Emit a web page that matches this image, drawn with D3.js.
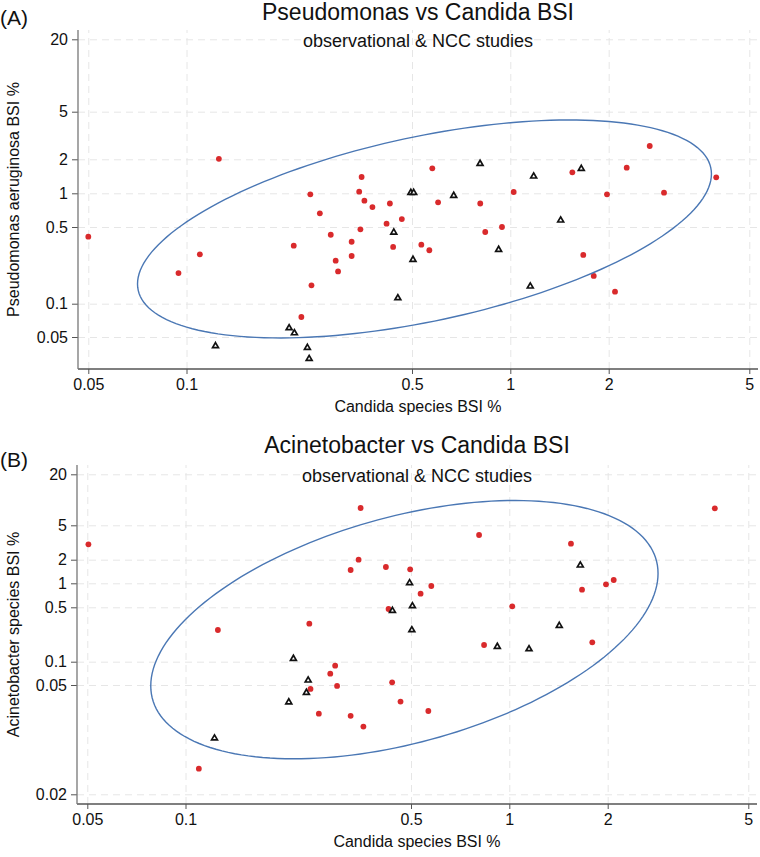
<!DOCTYPE html>
<html>
<head>
<meta charset="utf-8">
<script src="https://cdn.jsdelivr.net/npm/d3@7"></script>
<style>
  body { margin: 0; background: #fff; }
  svg { display: block; font-family: "Liberation Sans", Arial, Helvetica, sans-serif; }
</style>
</head>
<body>
<div id="chart"></div>
<script>
// tick values shared by both panels
const xTicks = [0.05, 0.1, 0.5, 1, 2, 5]
const yTicksA = [20, 5, 2, 1, 0.5, 0.1, 0.05]
const yTicksB = [20, 5, 2, 1, 0.5, 0.1, 0.05, 0.02]

// (A) Pseudomonas vs Candida, % BSI — observational studies (red dots)
const obsCandidaA = [0.05, 0.0945, 0.110, 0.126, 0.215, 0.227, 0.242, 0.244, 0.259, 0.280,
  0.290, 0.295, 0.325, 0.325, 0.343, 0.346, 0.349, 0.356, 0.377, 0.417,
  0.427, 0.437, 0.465, 0.534, 0.565, 0.577, 0.601, 0.809, 0.838, 0.943,
  1.024, 1.548, 1.672, 1.80, 1.976, 2.084, 2.249, 2.613, 2.868, 4.03]
const obsPseudo = [0.408, 0.190, 0.282, 2.02, 0.338, 0.0758, 0.980, 0.147, 0.663, 0.425,
  0.2465, 0.197, 0.367, 0.272, 1.033, 0.476, 1.394, 0.859, 0.754, 0.535,
  0.811, 0.329, 0.589, 0.345, 0.307, 1.665, 0.831, 0.811, 0.450, 0.500,
  1.027, 1.534, 0.278, 0.179, 0.980, 0.1287, 1.685, 2.583, 1.012, 1.386]
// NCC studies (triangles)
const nccCandidaA = [0.123, 0.208, 0.216, 0.237, 0.240, 0.439, 0.452, 0.496, 0.506, 0.5035,
  0.671, 0.808, 0.921, 1.151, 1.179, 1.426, 1.649]
const nccPseudo = [0.0415, 0.0603, 0.0543, 0.0400, 0.0318, 0.447, 0.1127, 1.012, 1.012, 0.252,
  0.952, 1.829, 0.3106, 0.1441, 1.414, 0.574, 1.651]

// (B) Acinetobacter vs Candida
const obsCandidaB = [0.0504, 0.349, 0.344, 0.325, 0.242, 0.126, 4.02, 0.808, 1.544, 0.418,
  0.497, 0.577, 0.535, 1.976, 2.08, 1.669, 0.426, 1.021, 1.794, 0.291,
  0.281, 0.244, 0.295, 0.259, 0.325, 0.356, 0.110, 0.837, 0.437, 0.464, 0.565]
const obsAcineto = [3.014, 8.0, 2.0, 1.478, 0.308, 0.2554, 7.94, 3.861, 3.063, 1.614,
  1.509, 0.925, 0.741, 0.972, 1.102, 0.831, 0.4755, 0.515, 0.1775, 0.0888,
  0.070, 0.0484, 0.0496, 0.0393, 0.0386, 0.0353, 0.0248, 0.164, 0.0542, 0.0435, 0.0402]
const nccCandidaB = [0.495, 1.649, 0.438, 0.505, 0.503, 1.422, 0.216, 0.240, 0.237, 0.209,
  0.123, 0.919, 1.149]
const nccAcineto = [1.009, 1.697, 0.452, 0.519, 0.2554, 0.290, 0.1093, 0.0575, 0.0469, 0.0433,
  0.032, 0.156, 0.1456]

// ellipse: centre (x %, y %), half-widths as share of plot, phase in degrees
const ellipseA = [0.546, 0.480, 0.422, 0.3215, 120.3]
const ellipseB = [0.477, 0.258, 0.373, 0.381, 115.8]

const W = 760, H = 857
const red = '#d92a2c', blue = '#4a77b4'

const svg = d3.select('#chart')
  .append('svg')
    .attr('width', W)
    .attr('height', H)

function panel (p) {
  const width = 680, height = 339
  const g = svg.append('g').attr('transform', `translate(${p.left}, ${p.top})`)

  // piecewise log scales, one piece per labelled tick
  const x = d3.scaleLog().domain(xTicks).range([10.3, 108.5, 334, 432.3, 530.7, 671.3])
  const y = d3.scaleLog().domain(p.yTicks).range(p.yPos)

  // grid
  g.append('g')
    .attr('transform', `translate(0, ${height})`)
    .call(d3.axisBottom(x).tickValues(xTicks).tickSize(-height).tickFormat(''))
    .call(a => a.select('.domain').remove())
    .selectAll('line')
      .attr('stroke', '#e6e6e6')
      .attr('stroke-dasharray', '7,5')
  g.append('g')
    .call(d3.axisLeft(y).tickValues(p.yTicks).tickSize(-width).tickFormat(''))
    .call(a => a.select('.domain').remove())
    .selectAll('line')
      .attr('stroke', '#e6e6e6')
      .attr('stroke-dasharray', '7,5')

  // axes
  const xa = g.append('g')
    .attr('transform', `translate(0, ${height})`)
    .call(d3.axisBottom(x).tickValues(xTicks).tickSize(5).tickPadding(5).tickFormat(d => String(d)))
  const ya = g.append('g')
    .call(d3.axisLeft(y).tickValues(p.yTicks).tickSize(6).tickPadding(4).tickFormat(d => String(d)))
  ;[xa, ya].forEach(a => {
    a.select('.domain').remove()
    a.selectAll('line').attr('stroke', '#555')
    a.selectAll('text').attr('font-size', 16).attr('fill', '#111').attr('font-family', null)
  })
  g.append('line').attr('x1', 0).attr('x2', width).attr('y1', height).attr('y2', height)
    .attr('stroke', '#555').attr('stroke-width', 1.3)
  g.append('line').attr('x1', 0).attr('x2', 0).attr('y1', 0).attr('y2', height)
    .attr('stroke', '#777').attr('stroke-width', 1.3)

  // ellipse
  const [ecx, ecy, erx, ery, eph] = p.ellipse
  const cx = x(ecx), cy = y(ecy), ph = eph * Math.PI / 180
  const pts = d3.range(0, 361, 2).map(t => {
    const a = t * Math.PI / 180
    return [cx + erx * width * Math.cos(a), cy + ery * height * Math.cos(a + ph)]
  })

  // observational studies
  g.append('g')
    .selectAll('circle')
    .data(p.obsX.map((v, i) => [v, p.obsY[i]]))
    .enter()
    .append('circle')
      .attr('cx', d => x(d[0]))
      .attr('cy', d => y(d[1]))
      .attr('r', 2.9)
      .attr('fill', red)

  // NCC studies
  g.append('g')
    .selectAll('path')
    .data(p.nccX.map((v, i) => [v, p.nccY[i]]))
    .enter()
    .append('path')
      .attr('d', d3.symbol(d3.symbolTriangle, 15))
      .attr('transform', d => `translate(${x(d[0])}, ${y(d[1])})`)
      .attr('fill', '#fff')
      .attr('stroke', '#111')
      .attr('stroke-width', 1.7)

  g.append('path')
    .attr('d', d3.line()(pts))
    .attr('fill', 'none')
    .attr('stroke', blue)
    .attr('stroke-width', 1.4)

  // texts
  const mid = width / 2
  g.append('text').attr('x', mid).attr('y', p.titleY).attr('text-anchor', 'middle')
    .attr('font-size', 23).attr('fill', '#111').text(p.title)
  g.append('text').attr('x', mid).attr('y', 17).attr('text-anchor', 'middle')
    .attr('font-size', 18).attr('fill', '#111').text('observational & NCC studies')
  g.append('text').attr('x', mid).attr('y', height + 43).attr('text-anchor', 'middle')
    .attr('font-size', 16).attr('fill', '#111').text('Candida species BSI %')
  g.append('text')
    .attr('transform', `translate(${19 - p.left}, ${height / 2}) rotate(-90)`)
    .attr('text-anchor', 'middle')
    .attr('font-size', 16).attr('fill', '#111').text(p.yLabel)
  g.append('text').attr('x', -p.left).attr('y', p.tagY).attr('font-size', 21)
    .attr('fill', '#111').text(p.tag)
}

panel({
  left: 78, top: 30,
  yTicks: yTicksA, yPos: [9.3, 81.7, 129.3, 163.3, 197, 273.7, 307],
  obsX: obsCandidaA, obsY: obsPseudo, nccX: nccCandidaA, nccY: nccPseudo,
  ellipse: ellipseA,
  title: 'Pseudomonas vs Candida BSI', titleY: -10,
  yLabel: 'Pseudomonas aeruginosa BSI %',
  tag: '(A)', tagY: -5
})

panel({
  left: 77, top: 465,
  yTicks: yTicksB, yPos: [9.3, 60.3, 94.7, 118.3, 142.3, 196.7, 220, 329.3],
  obsX: obsCandidaB, obsY: obsAcineto, nccX: nccCandidaB, nccY: nccAcineto,
  ellipse: ellipseB,
  title: 'Acinetobacter vs Candida BSI', titleY: -12,
  yLabel: 'Acinetobacter species BSI %',
  tag: '(B)', tagY: 2
})
</script>
</body>
</html>
